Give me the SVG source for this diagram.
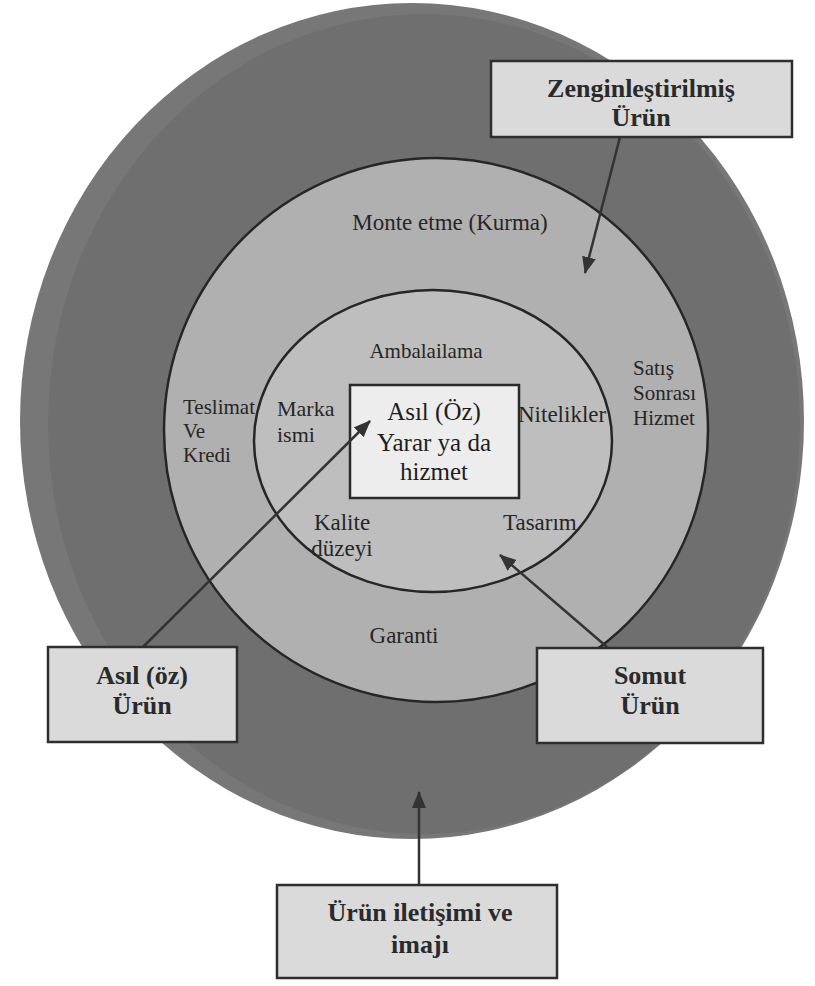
<svg xmlns="http://www.w3.org/2000/svg" width="815" height="986" viewBox="0 0 815 986">
<style>
text{font-family:"Liberation Serif","Times New Roman",serif;}
.lbl{fill:#262626;}
.s21{font-size:21px;}
.s22{font-size:22px;}
.s23{font-size:23px;}
.core{font-size:25px;fill:#1e1e1e;text-anchor:middle;}
.btxt{font-size:26px;font-weight:bold;fill:#2a2a2a;text-anchor:middle;}
.box{fill:#dadada;stroke:#2e2e2e;stroke-width:2.5;}
.ring{stroke:#262626;stroke-width:2.5;}
.conn{stroke:#333;stroke-width:2.5;fill:none;marker-end:url(#ah);}
</style>
<defs>
<marker id="ah" markerUnits="userSpaceOnUse" markerWidth="20" markerHeight="16" refX="16" refY="7" orient="auto">
<path d="M0,0 L17,7 L0,14 Z" fill="#333"/>
</marker>
</defs>
<rect width="815" height="986" fill="#ffffff"/>
<g id="outer">
<ellipse cx="412" cy="421" rx="392" ry="418" fill="#777777"/>
<ellipse cx="424" cy="424" rx="376" ry="410" fill="#6f6f6f"/>
</g>
<g id="middle">
<circle cx="436" cy="430" r="272" fill="#b0b0b0" class="ring"/>
</g>
<g id="inner">
<ellipse cx="433" cy="441" rx="179" ry="151" fill="#bebebe" class="ring"/>
</g>
<g id="core">
<rect x="350" y="385" width="169" height="113" fill="#ededed" stroke="#2a2a2a" stroke-width="2.5"/>
<text class="core" x="434" y="420">Asıl (Öz)</text>
<text class="core" x="434" y="451">Yarar ya da</text>
<text class="core" x="434" y="480">hizmet</text>
</g>
<g id="labels">
<text class="lbl s23" x="450" y="230" text-anchor="middle">Monte etme (Kurma)</text>
<text class="lbl s21" x="426" y="358" text-anchor="middle">Ambalailama</text>
<text class="lbl s21" x="183" y="414">Teslimat</text>
<text class="lbl s21" x="183" y="438">Ve</text>
<text class="lbl s21" x="183" y="462">Kredi</text>
<text class="lbl s22" x="277" y="416">Marka</text>
<text class="lbl s22" x="277" y="442">ismi</text>
<text class="lbl s23" x="518" y="422">Nitelikler</text>
<text class="lbl s21" x="633" y="375">Satış</text>
<text class="lbl s21" x="633" y="400">Sonrası</text>
<text class="lbl s21" x="633" y="425">Hizmet</text>
<text class="lbl s23" x="342" y="530" text-anchor="middle">Kalite</text>
<text class="lbl s23" x="342" y="556" text-anchor="middle">düzeyi</text>
<text class="lbl s23" x="503" y="530">Tasarım</text>
<text class="lbl s23" x="404" y="643" text-anchor="middle">Garanti</text>
</g>
<g id="connectors">
<line class="conn" x1="620" y1="137" x2="585" y2="273"/>
<line class="conn" x1="143" y1="647" x2="370" y2="421"/>
<line class="conn" x1="607" y1="647" x2="500" y2="555"/>
<line class="conn" x1="419" y1="885" x2="419" y2="792"/>
</g>
<g id="zenginlestirilmis">
<rect class="box" x="491" y="61" width="301" height="76"/>
<text class="btxt" x="641" y="97">Zenginleştirilmiş</text>
<text class="btxt" x="641" y="126">Ürün</text>
</g>
<g id="asil-oz-urun">
<rect class="box" x="48" y="647" width="189" height="95"/>
<text class="btxt" x="142" y="684">Asıl (öz)</text>
<text class="btxt" x="142" y="714">Ürün</text>
</g>
<g id="somut-urun">
<rect class="box" x="537" y="648" width="226" height="95"/>
<text class="btxt" x="650" y="684">Somut</text>
<text class="btxt" x="650" y="714">Ürün</text>
</g>
<g id="urun-iletisimi">
<rect class="box" x="277" y="885" width="280" height="93"/>
<text class="btxt" x="420" y="921">Ürün iletişimi ve</text>
<text class="btxt" x="420" y="953">imajı</text>
</g>
</svg>
